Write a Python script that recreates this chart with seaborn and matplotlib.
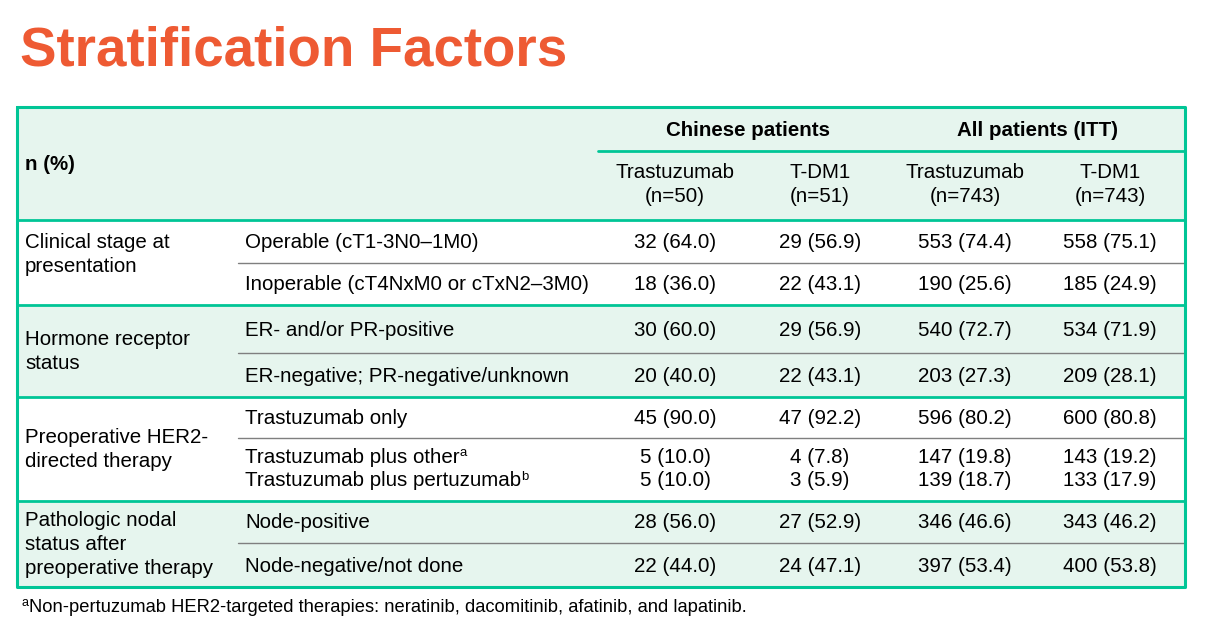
import matplotlib
matplotlib.use("Agg")
import matplotlib.pyplot as plt
import seaborn as sns

# ---------- DATA ----------
TITLE = "Stratification Factors"
CORNER = "n (%)"
ARM_GROUPS = ["Chinese patients", "All patients (ITT)"]
ARM_NAMES = ["Trastuzumab", "T-DM1", "Trastuzumab", "T-DM1"]
ARM_N = ["(n=50)", "(n=51)", "(n=743)", "(n=743)"]

FACTORS = [["Clinical stage at", "presentation"],
           ["Hormone receptor", "status"],
           ["Preoperative HER2-", "directed therapy"],
           ["Pathologic nodal", "status after", "preoperative therapy"]]

# one entry per printed line; LEVEL_CELL says which sub-row it sits in
LEVELS = ["Operable (cT1-3N0–1M0)",
          "Inoperable (cT4NxM0 or cTxN2–3M0)",
          "ER- and/or PR-positive",
          "ER-negative; PR-negative/unknown",
          "Trastuzumab only",
          "Trastuzumab plus other",
          "Trastuzumab plus pertuzumab",
          "Node-positive",
          "Node-negative/not done"]
LEVEL_SUP = ["", "", "", "", "", "a", "b", "", ""]
LEVEL_CELL = [0, 1, 2, 3, 4, 5, 5, 6, 7]
CELL_FACTOR = [0, 0, 1, 1, 2, 2, 3, 3]

CHN_TRAS = ["32 (64.0)", "18 (36.0)", "30 (60.0)", "20 (40.0)", "45 (90.0)",
            "5 (10.0)", "5 (10.0)", "28 (56.0)", "22 (44.0)"]
CHN_TDM1 = ["29 (56.9)", "22 (43.1)", "29 (56.9)", "22 (43.1)", "47 (92.2)",
            "4 (7.8)", "3 (5.9)", "27 (52.9)", "24 (47.1)"]
ITT_TRAS = ["553 (74.4)", "190 (25.6)", "540 (72.7)", "203 (27.3)", "596 (80.2)",
            "147 (19.8)", "139 (18.7)", "346 (46.6)", "397 (53.4)"]
ITT_TDM1 = ["558 (75.1)", "185 (24.9)", "534 (71.9)", "209 (28.1)", "600 (80.8)",
            "143 (19.2)", "133 (17.9)", "343 (46.2)", "400 (53.8)"]

FOOT_SUP = "a"
FOOTNOTE = "Non-pertuzumab HER2-targeted therapies: neratinib, dacomitinib, afatinib, and lapatinib."

# ---------- LAYOUT / STYLE ----------
ORANGE = "#EE5A33"
GREEN = "#00C596"
PALE = "#E6F5EE"
GREY = "#7F7F7F"

X0, X1 = 17, 1185
Y_TOP, Y_HEAD, Y_BOT = 107, 220, 587
CELL_EDGES = [220, 263, 305, 353, 397, 438, 501, 543, 587]
COL_X = [675, 820, 965, 1110]
X_FACTOR, X_LEVEL, X_SUBLINE = 25, 245, 238
FS = 14.8
LINE_H = 23.5

sns.set_theme(style="white")
plt.rcParams["font.family"] = ["Liberation Sans", "DejaVu Sans"]
plt.rcParams["text.color"] = "black"

fig = plt.figure(figsize=(12.05, 6.31), dpi=100)
ax = fig.add_axes([0, 0, 1, 1])
ax.set_xlim(0, 1205)
ax.set_ylim(631, 0)
ax.axis("off")


def sup(txt, s, size=9.5):
    # small superscript glued to the right edge of a text
    if s:
        ax.annotate(s, xy=(1.0, 0.56), xycoords=txt, xytext=(0.2, 0),
                    textcoords="offset points", fontsize=size,
                    va="baseline", ha="left", color="black")


ax.text(20, 66, TITLE, color=ORANGE, fontsize=39.4, fontweight="bold",
        va="baseline", ha="left")

# backgrounds and factor labels
ax.fill_between([X0, X1], Y_TOP, Y_HEAD, color=PALE, lw=0)
for f in range(len(FACTORS)):
    cells = [c for c, g in enumerate(CELL_FACTOR) if g == f]
    top, bot = CELL_EDGES[cells[0]], CELL_EDGES[cells[-1] + 1]
    if f % 2 == 1:
        ax.fill_between([X0, X1], top, bot, color=PALE, lw=0)
    if f > 0:
        ax.plot([X0, X1], [top, top], color=GREEN, lw=2)
    for c in cells[1:]:
        ax.plot([X_SUBLINE, X1], [CELL_EDGES[c]] * 2, color=GREY, lw=1)
    lines = FACTORS[f]
    if f == 0:
        y_first = (CELL_EDGES[0] + CELL_EDGES[1]) / 2 + 1
    else:
        y_first = (top + bot) / 2 + 0.5 - (len(lines) - 1) * LINE_H / 2
    for k, s in enumerate(lines):
        ax.text(X_FACTOR, y_first + k * LINE_H, s, fontsize=FS, va="center", ha="left")

# header
ax.plot([X0, X1], [Y_HEAD, Y_HEAD], color=GREEN, lw=2)
ax.plot([598, X1], [151, 151], color=GREEN, lw=2)
ax.text(X_FACTOR, 164, CORNER, fontsize=FS, fontweight="bold", va="center", ha="left")
for g, name in enumerate(ARM_GROUPS):
    xc = (COL_X[2 * g] + COL_X[2 * g + 1]) / 2
    ax.text(xc, 130, name, fontsize=FS, fontweight="bold", va="center", ha="center")
for x, a, n in zip(COL_X, ARM_NAMES, ARM_N):
    ax.text(x, 173, a, fontsize=FS, va="center", ha="center")
    ax.text(x, 196, n, fontsize=FS, va="center", ha="center")

# body
columns = [CHN_TRAS, CHN_TDM1, ITT_TRAS, ITT_TDM1]
for i, label in enumerate(LEVELS):
    c = LEVEL_CELL[i]
    same = [j for j, cc in enumerate(LEVEL_CELL) if cc == c]
    k = same.index(i)
    yc = (CELL_EDGES[c] + CELL_EDGES[c + 1]) / 2 + 1
    if len(same) > 1:
        yc = yc - 1.5 - (len(same) - 1) * LINE_H / 2 + k * LINE_H
    t = ax.text(X_LEVEL, yc, label, fontsize=FS, va="center", ha="left")
    sup(t, LEVEL_SUP[i])
    for x, col in zip(COL_X, columns):
        ax.text(x, yc, col[i], fontsize=FS, va="center", ha="center")

# outer border
ax.plot([X0, X1, X1, X0, X0], [Y_TOP, Y_TOP, Y_BOT, Y_BOT, Y_TOP], color=GREEN, lw=2.2)

# footnote
fs_ = ax.text(22, 606, FOOT_SUP, fontsize=9, va="baseline", ha="left")
ax.annotate(FOOTNOTE, xy=(1.0, 607), xycoords=(fs_, "data"), xytext=(0.3, 0),
            textcoords="offset points", fontsize=13.2, va="center", ha="left")

fig.savefig("out.png", dpi=100)
